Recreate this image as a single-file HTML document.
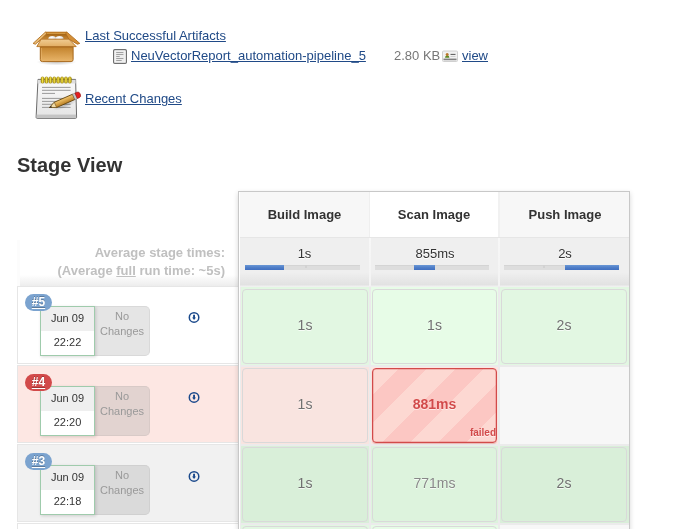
<!DOCTYPE html>
<html><head><meta charset="utf-8">
<style>
*{box-sizing:border-box}
html,body{margin:0;padding:0;background:#fff;width:687px;height:529px;overflow:hidden;position:relative;font-family:"Liberation Sans",sans-serif;font-size:13px;color:#333}
.abs{position:absolute}
a{color:#204a87;text-decoration:underline}
.t{position:absolute;white-space:nowrap;line-height:15px}
.lrow{position:absolute;left:17px;width:221px;height:78px;border:1px solid #e6e6e6;border-right:none}
.badge{position:absolute;left:7px;top:7px;width:27px;height:17px;border-radius:9px;color:#fff;font-weight:bold;font-size:12px;z-index:3}
.badge span{position:absolute;left:0;width:27px;top:1px;line-height:14px;text-align:center;text-decoration:underline;text-underline-offset:2px;text-shadow:0 -1px 0 rgba(0,0,0,.25)}
.date{position:absolute;left:22px;top:19px;width:55px;height:50px;border:1px solid #9fcbac;background:#fff;box-shadow:1px 1px 3px rgba(0,0,0,.15);z-index:2;font-size:11px;color:#333;text-align:center}
.date .d1{position:absolute;left:0;top:0;width:53px;height:24px;background:#efefef}
.date .d2{position:absolute;left:0;top:24px;width:53px;height:24px}
.date span{position:absolute;left:0;width:53px;line-height:13px}
.date .d1 span{top:5px}
.date .d2 span{top:5px}
.nochg{position:absolute;left:77px;top:19px;width:55px;height:50px;border-radius:0 5px 5px 0;border:1px solid #d9d9d9;border-left:none;font-size:11px;color:#999;text-align:center}
.nochg span{position:absolute;left:0;width:54px;line-height:13px}
.n1{top:3px}.n2{top:17.5px}
.dl{position:absolute;left:170px;top:24px;width:12px;height:12px}
.cell{position:absolute;height:79px}
.box{position:absolute;left:3px;top:1px;right:3px;height:75px;border:1px solid #d9d9d9;border-radius:4px;text-align:center;line-height:71px;color:#707070;font-size:14px;text-shadow:0 1px 0 rgba(255,255,255,.7)}
.bar{top:73px;height:5px;background:#dddddd;box-shadow:inset 0 1px 0 #d4d4d4}
.bar i{position:absolute;top:0;height:5px;background:linear-gradient(#6a97d5,#4d7cc7 55%,#4170c0)}
.bar b{position:absolute;top:0;width:2px;height:3px;background:#d2d2d2}
.failed{background:repeating-linear-gradient(135deg,#fdd8d2 0,#fdd8d2 18px,#fcc7c3 18px,#fcc7c3 38px,#fdd8d2 38px,#fdd8d2 40px);border-color:#d24a4a !important;color:#d24a4a !important;box-shadow:0 1px 1px rgba(150,0,0,.2),inset 0 0 0 .5px rgba(210,74,74,.5);font-weight:bold;font-size:14px}
.failed{line-height:71px;text-shadow:0 1px 0 rgba(255,255,255,.6)}
.failed span{position:absolute;right:0px;bottom:4px;font-size:10px;line-height:10px}
</style></head><body><div style="position:absolute;left:0;top:0;width:687px;height:529px;will-change:transform">

<!-- artifacts -->
<svg class="abs" style="left:28px;top:20px" width="60" height="50" viewBox="0 0 60 50">
  <defs>
    <linearGradient id="bx" x1="0" y1="0" x2="0" y2="1"><stop offset="0" stop-color="#c2822c"/><stop offset="1" stop-color="#e9b56a"/></linearGradient>
    <linearGradient id="bd" x1="0" y1="0" x2="0" y2="1"><stop offset="0" stop-color="#f0cc92"/><stop offset="1" stop-color="#e2ad62"/></linearGradient>
    <linearGradient id="ins" x1="0" y1="0" x2="0" y2="1"><stop offset="0" stop-color="#b87a26"/><stop offset=".3" stop-color="#a86818"/><stop offset="1" stop-color="#c98a36"/></linearGradient>
    <radialGradient id="egg" cx=".4" cy=".35" r=".7"><stop offset="0" stop-color="#ffffff"/><stop offset=".6" stop-color="#e8e8e8"/><stop offset="1" stop-color="#a8a8a8"/></radialGradient>
    <radialGradient id="sh" cx=".5" cy=".5" r=".5"><stop offset="0" stop-color="#000" stop-opacity=".22"/><stop offset="1" stop-color="#000" stop-opacity="0"/></radialGradient>
  </defs>
  <ellipse cx="28.5" cy="42" rx="20" ry="3.5" fill="url(#sh)"/>
  <path d="M17.6 12.4 L38.6 12.4 L40.9 19.2 L13.1 19.2 Z" fill="url(#ins)"/>
  <path d="M17.6 12.4 L38.6 12.4" stroke="#c07c26" stroke-width="1.4"/>
  <path d="M18.4 13.5 L37.9 13.5" stroke="#e0a850" stroke-width=".7"/>
  <ellipse cx="24.3" cy="18.6" rx="3.9" ry="2.6" fill="url(#egg)"/><ellipse cx="31.5" cy="18.6" rx="4.1" ry="2.6" fill="url(#egg)"/>
  <path d="M17.6 11.9 L5.1 23.4 L7.4 24.2 L13.1 19.2 L18.6 13.8 Z" fill="#e9bb74" stroke="#b27020" stroke-width=".9" stroke-linejoin="round"/>
  <path d="M38.6 11.9 L51.8 23.4 L49.4 24.2 L40.9 19.2 L37.8 13.8 Z" fill="#d38e36" stroke="#b06c1c" stroke-width=".9" stroke-linejoin="round"/>
  <path d="M13.1 19.2 L40.9 19.2 L48.2 26.6 L8.8 26.6 Z" fill="url(#bd)" stroke="#b57220" stroke-width=".9" stroke-linejoin="round"/>
  <path d="M12.3 27 L45.1 27 L45.1 39.6 Q45.1 41.6 43.1 41.6 L14.3 41.6 Q12.3 41.6 12.3 39.6 Z" fill="url(#bx)" stroke="#a8691c" stroke-width="1"/>
  <path d="M13.6 28 L13.6 39.5" stroke="#f0c07a" stroke-width=".7" opacity=".7"/>
</svg>
<div class="t" style="left:85px;top:28px"><a>Last Successful Artifacts</a></div>
<svg class="abs" style="left:113px;top:49px" width="14" height="15" viewBox="0 0 14 15">
  <rect x=".6" y=".6" width="12.8" height="13.8" rx="1.2" fill="#fff" stroke="#6f6f6f" stroke-width="1.2"/>
  <rect x="2.3" y="2.2" width="9.5" height="10.6" fill="#ececec"/>
  <path d="M3.2 3.5h7.2M3.2 5.5h7.2M3.2 7.5h3.5M3.2 9.5h7.2M3.2 11.5h5.5" stroke="#9a9a9a" stroke-width=".9"/>
</svg>
<div class="t" style="left:131px;top:48px"><a>NeuVectorReport_automation-pipeline_5</a></div>
<div class="t" style="left:394px;top:48px;color:#777">2.80 KB</div>
<svg class="abs" style="left:442px;top:50px" width="16" height="12" viewBox="0 0 16 12">
  <rect x=".5" y="1" width="15" height="10.5" rx="1" fill="#f1f1f1" stroke="#d0d0d0"/>
  <rect x="1.5" y="8.6" width="13" height="1.6" fill="#5a5a5a" opacity=".75"/>
  <path d="M3 7.8 Q3 5.6 5.2 5.6 Q7.4 5.6 7.4 7.8 Z" fill="#5e8a22"/>
  <circle cx="5.2" cy="4.4" r="1.5" fill="#b8782a"/>
  <path d="M8.5 4.4h5" stroke="#555" stroke-width="1"/>
  <path d="M8.5 6.5h5" stroke="#cfcfcf" stroke-width="1"/>
</svg>
<div class="t" style="left:462px;top:48px"><a>view</a></div>

<svg class="abs" style="left:34px;top:75px" width="50" height="46" viewBox="0 0 50 46">
  <defs>
    <linearGradient id="pd" x1="0" y1="0" x2="0" y2="1"><stop offset="0" stop-color="#fbfbfb"/><stop offset="1" stop-color="#e4e4e4"/></linearGradient>
    <linearGradient id="pc" x1="0" y1="0" x2="0" y2="1"><stop offset="0" stop-color="#f4c870"/><stop offset="1" stop-color="#b97e22"/></linearGradient>
    <linearGradient id="sp" x1="0" y1="0" x2="1" y2="0"><stop offset="0" stop-color="#a88c00"/><stop offset=".5" stop-color="#f2e24a"/><stop offset="1" stop-color="#a88c00"/></linearGradient>
    <radialGradient id="psh" cx=".5" cy=".5" r=".5"><stop offset="0" stop-color="#000" stop-opacity=".22"/><stop offset="1" stop-color="#000" stop-opacity="0"/></radialGradient>
  </defs>
  <path d="M4 4.4 L41.6 4.4 L42.6 42.3 Q42.6 43.3 41.6 43.3 L3.1 43.3 Q2.1 43.3 2.1 42.3 Z" fill="url(#pd)" stroke="#6a6a6a" stroke-width="1"/>
  <rect x="3.6" y="4.9" width="38" height="3.6" fill="#dedede"/>
  <rect x="2.6" y="39.6" width="39.5" height="3.2" fill="#c4c4c4"/>
  <g fill="url(#sp)" stroke="#8c7400" stroke-width=".4"><rect x="7.0" y="1.8" width="3.1" height="6.4" rx="1.55"/><rect x="10.9" y="1.8" width="3.1" height="6.4" rx="1.55"/><rect x="14.8" y="1.8" width="3.1" height="6.4" rx="1.55"/><rect x="18.7" y="1.8" width="3.1" height="6.4" rx="1.55"/><rect x="22.6" y="1.8" width="3.1" height="6.4" rx="1.55"/><rect x="26.5" y="1.8" width="3.1" height="6.4" rx="1.55"/><rect x="30.4" y="1.8" width="3.1" height="6.4" rx="1.55"/><rect x="34.3" y="1.8" width="3.1" height="6.4" rx="1.55"/></g>
  <path d="M8 12.4h28.6M8 15.3h28.6M8 18.4h13M8 23.4h28.6M8 26.4h28.6M8 29.3h28.6M8 32.4h28.6" stroke="#8f8f8f" stroke-width=".9"/>
  <ellipse cx="31" cy="30" rx="13" ry="3" fill="url(#psh)" transform="rotate(-22 31 30)"/>
  <g transform="translate(15.5 32.5) rotate(-23.7)">
    <path d="M0 0 L6.5 -2.9 L26.5 -2.9 L26.5 2.9 L6.5 2.9 Z" fill="url(#pc)" stroke="#5e400c" stroke-width=".8" stroke-linejoin="round"/>
    <path d="M0 0 L6.5 -2.9 L6.5 2.9 Z" fill="#f1dca8" stroke="#5e400c" stroke-width=".5"/>
    <path d="M0 0 L2.2 -1 L2.2 1 Z" fill="#222"/>
    <rect x="26.5" y="-3" width="2.6" height="6" fill="#c8c8c8" stroke="#7a7a7a" stroke-width=".4"/>
    <path d="M29.1 -3 L31.4 -3 Q33.6 -3 33.6 0 Q33.6 3 31.4 3 L29.1 3 Z" fill="#e41f1f" stroke="#8a1010" stroke-width=".5"/>
  </g>
</svg>
<div class="t" style="left:85px;top:91px"><a>Recent Changes</a></div>

<div class="t" style="left:17px;top:153px;font-size:20px;font-weight:bold;line-height:24px;color:#333">Stage View</div>

<!-- left totals -->
<div class="abs" style="left:17px;top:240px;width:221px;height:47px;background:linear-gradient(#fff 0,#fff 74%,#ebebeb 100%);border-left:3px solid #fcfcfc"></div>
<div class="t" style="left:17px;width:208px;top:244px;text-align:right;font-weight:bold;color:#c0c0c0;line-height:18px">Average stage times:<br>(Average <u>full</u> run time: ~5s)</div>

<!-- left rows -->
<div class="lrow" style="top:286px;background:#fff">
  <div class="badge" style="background:#7ba3cf"><span>#5</span></div>
  <div class="date"><div class="d1"><span>Jun 09</span></div><div class="d2"><span>22:22</span></div></div>
  <div class="nochg" style="background:#e5e5e5;border-color:#d9d9d9"><span class="n1">No</span><span class="n2">Changes</span></div>
  <svg class="dl" viewBox="0 0 12 12"><circle cx="6.05" cy="6.4" r="4.75" fill="none" stroke="#1c4a8c" stroke-width="1.5"/><path d="M5.1 3.7h1.9v2.9h1L6.05 8.9 4.1 6.6h1z" fill="#1c4a8c"/></svg>
</div>
<div class="lrow" style="top:365px;background:#fde7e3"><div style="position:absolute;left:0;top:1px;width:221px;height:77px">
  <div class="badge" style="background:#d24a4a"><span>#4</span></div>
  <div class="date"><div class="d1"><span>Jun 09</span></div><div class="d2"><span>22:20</span></div></div>
  <div class="nochg" style="background:#e2d3d0;border-color:#d8cac7"><span class="n1">No</span><span class="n2">Changes</span></div>
  <svg class="dl" viewBox="0 0 12 12"><circle cx="6.05" cy="6.4" r="4.75" fill="none" stroke="#1c4a8c" stroke-width="1.5"/><path d="M5.1 3.7h1.9v2.9h1L6.05 8.9 4.1 6.6h1z" fill="#1c4a8c"/></svg>
</div>
</div>
<div class="lrow" style="top:444px;background:#f1f1f1"><div style="position:absolute;left:0;top:1px;width:221px;height:77px">
  <div class="badge" style="background:#7ba3cf"><span>#3</span></div>
  <div class="date"><div class="d1"><span>Jun 09</span></div><div class="d2"><span>22:18</span></div></div>
  <div class="nochg" style="background:#dadada;border-color:#d0d0d0"><span class="n1">No</span><span class="n2">Changes</span></div>
  <svg class="dl" viewBox="0 0 12 12"><circle cx="6.05" cy="6.4" r="4.75" fill="none" stroke="#1c4a8c" stroke-width="1.5"/><path d="M5.1 3.7h1.9v2.9h1L6.05 8.9 4.1 6.6h1z" fill="#1c4a8c"/></svg>
</div>
</div>
<div class="lrow" style="top:523px;background:#fff"></div>

<!-- table box -->
<div class="abs" style="left:238px;top:191px;width:392px;height:340px;border:1px solid #c8c8c8;box-shadow:0 2px 5px rgba(0,0,0,.16);background:#fff;overflow:hidden">
  <!-- header -->
  <div class="abs" style="left:0;top:0;width:130px;height:46px;background:#f7f7f7"></div>
  <div class="abs" style="left:131px;top:0;width:130px;height:46px;background:#fff"></div>
  <div class="abs" style="left:261px;top:0;width:130px;height:46px;background:#f7f7f7"></div>
  <div class="t" style="left:0;width:131px;top:15px;text-align:center;font-weight:bold">Build Image</div>
  <div class="t" style="left:130px;width:130px;top:15px;text-align:center;font-weight:bold">Scan Image</div>
  <div class="t" style="left:261px;width:130px;top:15px;text-align:center;font-weight:bold">Push Image</div>

  <!-- totals -->
  <div class="abs" style="left:0;top:46px;width:390px;height:48px;background:linear-gradient(#efefef 0,#efefef 72%,#e2e2e2 97%,#ececec 100%)"></div>
  <div class="abs" style="left:130px;top:0;width:1px;height:46px;background:#efefef"></div>
  <div class="abs" style="left:259px;top:0;width:2px;height:46px;background:#f1f1f1"></div>
  <div class="abs" style="left:130px;top:46px;width:2px;height:48px;background:linear-gradient(#f7f7f7,#f3f3f3)"></div>
  <div class="abs" style="left:259px;top:46px;width:2px;height:48px;background:linear-gradient(#f7f7f7,#f3f3f3)"></div>
  <div class="t" style="left:0;width:131px;top:54px;text-align:center;color:#333;text-shadow:0 1px 0 #fff">1s</div>
  <div class="t" style="left:131px;width:130px;top:54px;text-align:center;color:#333;text-shadow:0 1px 0 #fff">855ms</div>
  <div class="t" style="left:261px;width:130px;top:54px;text-align:center;color:#333;text-shadow:0 1px 0 #fff">2s</div>
  <div class="abs bar" style="left:6px;width:115px"><i style="left:0;width:39px"></i><b style="left:60px"></b></div>
  <div class="abs bar" style="left:136px;width:114px"><i style="left:39px;width:21px"></i></div>

  <div class="abs" style="left:0;top:45px;width:390px;height:1px;background:#e6e6e6"></div>
  <div class="abs" style="left:0;top:0;width:1px;height:340px;background:#fff;z-index:5"></div>
  <!-- body rows (rel to inner origin 239,192) -->
  <div class="abs" style="left:1px;top:95px;width:1px;height:250px;background:#ececec;z-index:4"></div>
  <div class="abs" style="left:0;top:94px;width:390px;height:1px;background:#f0f0f0"></div>
  <div class="abs" style="left:0;top:95px;width:390px;height:250px;background:#ebebeb"></div>
  <!-- row5 -->
  <div class="cell" style="left:0;top:95px;width:130px;height:78px;background:#e2f7e2"><div class="box" style="left:3px;top:2px;width:126px;background:#e2f7e2">1s</div></div>
  <div class="cell" style="left:132px;top:95px;width:127px;height:78px;background:#e7fce7"><div class="box" style="left:1px;top:2px;width:125px;background:#e7fce7">1s</div></div>
  <div class="cell" style="left:261px;top:95px;width:129px;height:78px;background:#e2f7e2"><div class="box" style="left:1px;top:2px;width:126px;background:#e2f7e2">2s</div></div>
  <!-- row4 -->
  <div class="cell" style="left:0;top:175px;width:130px;height:77px;background:#f9e4e0"><div class="box" style="left:3px;width:126px;background:#f9e4e0">1s</div></div>
  <div class="cell" style="left:132px;top:175px;width:127px;height:77px;background:#fde6e2"><div class="box failed" style="left:1px;width:125px">881ms<span>failed</span></div></div>
  <div class="cell" style="left:261px;top:175px;width:129px;height:77px;background:#f7f7f7"></div>
  <!-- row3 -->
  <div class="cell" style="left:0;top:254px;width:130px;height:77px;background:#d9efd9"><div class="box" style="left:3px;width:126px;background:#d9efd9">1s</div></div>
  <div class="cell" style="left:132px;top:254px;width:127px;height:77px;background:#ddf3dd"><div class="box" style="left:1px;width:125px;background:#ddf3dd;color:#888">771ms</div></div>
  <div class="cell" style="left:261px;top:254px;width:129px;height:77px;background:#d9efd9"><div class="box" style="left:1px;width:126px;background:#d9efd9">2s</div></div>
  <!-- row2 -->
  <div class="cell" style="left:0;top:333px;width:130px;height:77px;background:#e2f7e2"><div class="box" style="left:3px;width:126px;background:#e2f7e2"></div></div>
  <div class="cell" style="left:132px;top:333px;width:127px;height:77px;background:#e7fce7"><div class="box" style="left:1px;width:125px;background:#e7fce7"></div></div>
  <div class="cell" style="left:261px;top:333px;width:129px;height:77px;background:#f7f7f7"></div>
  <div class="abs bar" style="left:265px;width:115px"><i style="left:61px;width:54px"></i><b style="left:39px"></b></div>
</div>

</div></body></html>
